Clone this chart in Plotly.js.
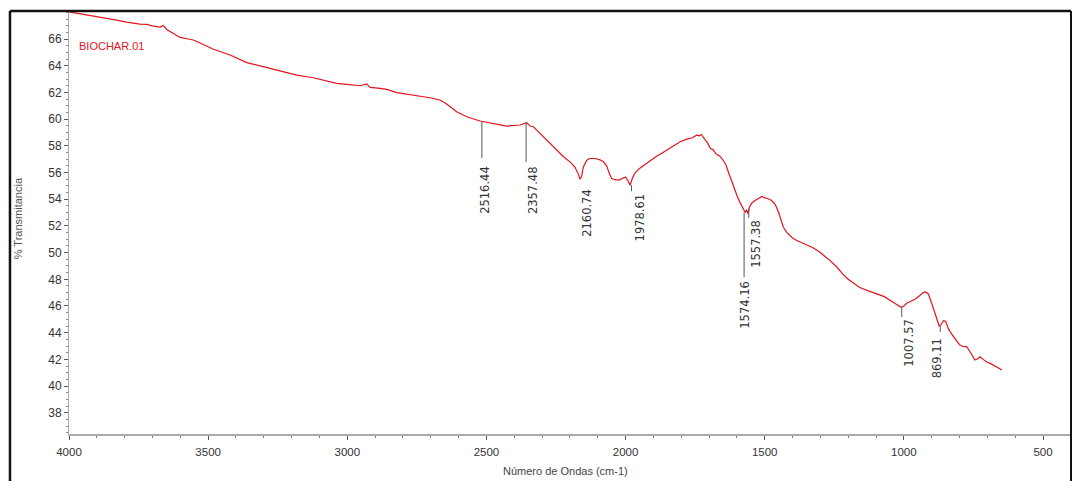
<!DOCTYPE html>
<html>
<head>
<meta charset="utf-8">
<script src="https://cdn.plot.ly/plotly-3.0.1.min.js"></script>
<style>
  html, body { margin: 0; padding: 0; background: #ffffff; }
  #chart { width: 1075px; height: 481px; }
</style>
</head>
<body>
<div id="chart"></div>
<script>
// ---- Data ----
const sampleName = "BIOCHAR.01";

const wavenumber = [
  4000, 3949, 3900, 3865, 3829, 3793, 3769, 3745, 3721, 3697, 3673, 3661, 3649, 3625, 3601,
  3577, 3553, 3529, 3481, 3421, 3361, 3302, 3242, 3182, 3122, 3062, 3038, 3002, 2954, 2930,
  2918, 2882, 2858, 2822, 2763, 2703, 2667, 2643, 2607, 2571, 2523, 2463, 2427, 2379, 2355,
  2343, 2331, 2320, 2296, 2272, 2248, 2224, 2200, 2182, 2170, 2164, 2158, 2152, 2140, 2130,
  2110, 2092, 2080, 2068, 2058, 2050, 2035, 2020, 2008, 2000, 1992, 1984, 1975, 1965, 1950,
  1930, 1912, 1890, 1870, 1852, 1830, 1804, 1780, 1760, 1745, 1735, 1728, 1718, 1705, 1695,
  1685, 1675, 1660, 1649, 1640, 1630, 1620, 1610, 1600, 1590, 1580, 1570, 1565, 1560, 1555,
  1547, 1535, 1520, 1510, 1500, 1490, 1475, 1462, 1450, 1440, 1433, 1420, 1400, 1385, 1360,
  1340, 1325, 1300, 1280, 1265, 1240, 1220, 1200, 1180, 1160, 1130, 1100, 1070, 1040, 1020,
  1010, 1000, 990, 975, 960, 945, 930, 922, 912, 900, 890, 880, 873, 866, 858,
  850, 840, 830, 815, 800, 785, 774, 760, 745, 735, 726, 715, 702, 690, 675,
  665, 655, 648
];

const transmittance = [
  68.04, 67.87, 67.67, 67.55, 67.42, 67.27, 67.17, 67.12, 67.10, 66.97, 66.90, 67.02, 66.72, 66.43, 66.12,
  66.02, 65.93, 65.70, 65.23, 64.80, 64.23, 63.93, 63.60, 63.30, 63.10, 62.80, 62.68, 62.60, 62.50, 62.64,
  62.38, 62.30, 62.23, 61.98, 61.80, 61.60, 61.43, 61.13, 60.55, 60.18, 59.86, 59.63, 59.48, 59.56, 59.73,
  59.48, 59.43, 59.20, 58.70, 58.20, 57.70, 57.20, 56.80, 56.40, 55.90, 55.50, 55.70, 56.40, 56.90, 57.05,
  57.05, 56.95, 56.80, 56.50, 55.90, 55.55, 55.45, 55.45, 55.60, 55.65, 55.40, 55.05, 55.60, 56.00, 56.30,
  56.60, 56.90, 57.20, 57.45, 57.70, 57.95, 58.30, 58.50, 58.60, 58.80, 58.75, 58.85, 58.60, 58.20, 57.80,
  57.70, 57.40, 57.20, 56.90, 56.60, 56.00, 55.40, 54.80, 54.30, 53.80, 53.40, 53.00, 53.20, 52.90, 53.40,
  53.70, 53.90, 54.10, 54.20, 54.10, 54.05, 53.90, 53.60, 53.00, 52.30, 51.90, 51.50, 51.10, 50.90, 50.70,
  50.50, 50.35, 50.00, 49.65, 49.40, 48.90, 48.40, 48.00, 47.70, 47.40, 47.15, 46.95, 46.70, 46.30, 46.00,
  45.90, 46.00, 46.20, 46.35, 46.50, 46.75, 47.00, 47.05, 46.90, 46.20, 45.50, 44.90, 44.50, 44.60, 44.90,
  44.85, 44.30, 43.95, 43.50, 43.10, 42.95, 42.95, 42.50, 41.95, 42.05, 42.20, 42.00, 41.80, 41.70, 41.55,
  41.45, 41.30, 41.20
];

const peakWavenumber = [2516.44, 2357.48, 2160.74, 1978.61, 1574.16, 1557.38, 1007.57, 869.11];
const peakTransmittance = [59.86, 59.70, 55.50, 55.05, 53.00, 53.30, 45.90, 44.50];
const peakLabels = ["2516.44", "2357.48", "2160.74", "1978.61", "1574.16", "1557.38", "1007.57", "869.11"];

const xTickValues = [4000, 3500, 3000, 2500, 2000, 1500, 1000, 500];
const yTickValues = [38, 40, 42, 44, 46, 48, 50, 52, 54, 56, 58, 60, 62, 64, 66];

// ---- Label placement (layout only) ----
const peakMarkLayout = [
  { lineTo: 57.09, labelY: 54.69, dx: 3 },
  { lineTo: 56.79, labelY: 54.69, dx: 7 },
  { lineTo: null,  labelY: 52.97, dx: 6 },
  { lineTo: 54.60, labelY: 52.60, dx: 8 },
  { lineTo: 48.17, labelY: 46.10, dx: 1 },
  { lineTo: 52.60, labelY: 50.64, dx: 7 },
  { lineTo: 45.18, labelY: 43.23, dx: 7 },
  { lineTo: 44.05, labelY: 42.10, dx: -3 }
];

const narrow = "'Liberation Sans Narrow', 'Arial Narrow', 'Liberation Sans', Arial, sans-serif";
const labelFont = "'DejaVu Sans', 'Liberation Sans', sans-serif";

const trace = {
  x: wavenumber,
  y: transmittance,
  type: "scatter",
  mode: "lines",
  line: { color: "#e3141e", width: 1.2 },
  hoverinfo: "x+y",
  showlegend: false
};

const shapes = [];
const annotations = [];

peakWavenumber.forEach((wn, i) => {
  const m = peakMarkLayout[i];
  if (m.lineTo !== null) {
    shapes.push({
      type: "line", xref: "x", yref: "y",
      x0: wn, x1: wn, y0: peakTransmittance[i], y1: m.lineTo,
      line: { color: "#555555", width: 1 }
    });
  }
  annotations.push({
    xref: "x", yref: "y", x: wn, y: m.labelY, xshift: m.dx,
    text: peakLabels[i], showarrow: false, textangle: -90,
    font: { family: labelFont, size: 11.5, color: "#333333" }
  });
});

// outer frame
const frameColor = "#111111";
shapes.push({ type: "line", xref: "paper", yref: "paper", x0: -0.0589, x1: -0.0589, y0: -0.12, y1: 1, line: { color: frameColor, width: 2.5 } });
shapes.push({ type: "line", xref: "paper", yref: "paper", x0: -0.0589, x1: 1, y0: 1, y1: 1, line: { color: frameColor, width: 2.5 } });
shapes.push({ type: "line", xref: "paper", yref: "paper", x0: 1, x1: 1, y0: -0.12, y1: 1, line: { color: frameColor, width: 2 } });

annotations.push({
  xref: "paper", yref: "paper", x: 0.008, y: 0.917, xanchor: "left", yanchor: "middle",
  text: sampleName, showarrow: false,
  font: { family: narrow, size: 11, color: "#e3141e" }
});
annotations.push({
  xref: "paper", yref: "paper", x: 0.496, y: -0.0875, xanchor: "center", yanchor: "middle",
  text: "Número de Ondas (cm-1)", showarrow: false,
  font: { family: narrow, size: 11, color: "#444444" }
});
annotations.push({
  xref: "paper", yref: "paper", x: -0.0509, y: 0.51, xanchor: "center", yanchor: "middle",
  text: "% Transmitancia", showarrow: false, textangle: -90,
  font: { family: narrow, size: 11, color: "#555555" }
});

const layout = {
  width: 1075,
  height: 481,
  margin: { l: 69, r: 4, t: 11, b: 47, pad: 0 },
  paper_bgcolor: "#ffffff",
  plot_bgcolor: "#ffffff",
  xaxis: {
    range: [4000, 399.4],
    tickmode: "array",
    tickvals: xTickValues,
    ticktext: xTickValues.map(String),
    showgrid: false,
    zeroline: false,
    showline: true,
    linecolor: "#aaaaaa",
    linewidth: 1.5,
    ticks: "outside",
    ticklen: 4,
    tickwidth: 1,
    tickcolor: "#555555",
    ticklabelstandoff: 3,
    minor: { dtick: 100, tick0: 0, ticks: "outside", ticklen: 2, tickcolor: "#777777", showgrid: false },
    tickfont: { family: narrow, size: 11.5, color: "#333333" }
  },
  yaxis: {
    range: [36.41, 68.10],
    tickmode: "array",
    tickvals: yTickValues,
    ticktext: yTickValues.map(String),
    showgrid: false,
    zeroline: false,
    showline: true,
    linecolor: "#aaaaaa",
    linewidth: 1,
    ticks: "outside",
    ticklen: 4,
    tickwidth: 1,
    tickcolor: "#555555",
    minor: { dtick: 0.5, tick0: 0, ticks: "outside", ticklen: 2, tickcolor: "#888888", showgrid: false },
    tickfont: { family: narrow, size: 12, color: "#333333" }
  },
  shapes: shapes,
  annotations: annotations,
  showlegend: false
};

Plotly.newPlot("chart", [trace], layout, { displayModeBar: false, staticPlot: true });
</script>
</body>
</html>
